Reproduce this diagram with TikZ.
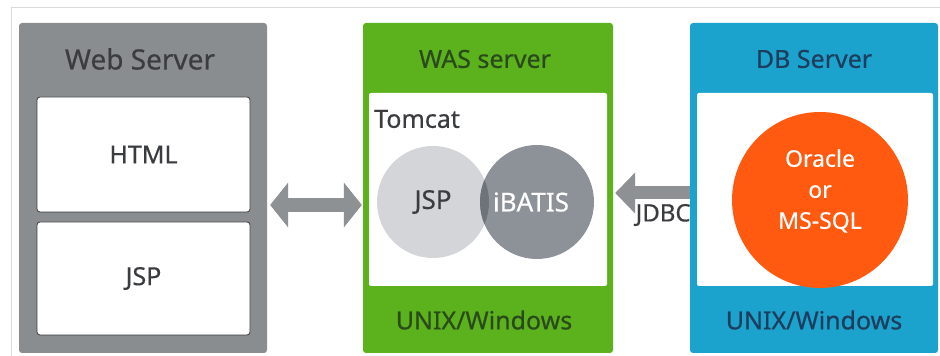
\documentclass[tikz,border=0pt]{standalone}
\usepackage{fontspec}
\setmainfont{Noto Sans}[FakeBold=0.5]
\usetikzlibrary{arrows.meta}
\definecolor{webgray}{HTML}{8A8D90}
\definecolor{wasgreen}{HTML}{5CB21C}
\definecolor{dbblue}{HTML}{1BA3CE}
\definecolor{orng}{HTML}{FF5A0F}
\definecolor{jspgray}{HTML}{D3D5D8}
\definecolor{ibgray}{HTML}{8D9299}
\definecolor{ovgray}{HTML}{6E737A}
\definecolor{arrgray}{HTML}{8E9194}
\definecolor{txt}{HTML}{3A3C3F}
\definecolor{wastxt}{HTML}{2A4A1E}
\definecolor{dbtxt}{HTML}{1E3D5C}
\definecolor{frame}{HTML}{D9D9D9}
\tikzset{
  server/.style={rectangle, rounded corners=3pt, draw=none, minimum width=248pt, minimum height=330pt, inner sep=0pt},
  inner/.style={rectangle, rounded corners=2pt, fill=white, draw=none, inner sep=0pt},
  webitem/.style={rectangle, rounded corners=3pt, fill=white, draw=txt, line width=0.8pt, minimum width=213pt, inner sep=0pt, font=\fontsize{25}{30}\selectfont, text=txt},
  title/.style={font=\fontsize{25}{30}\selectfont, inner sep=0pt},
  bigarrow/.style={line width=14pt, draw=arrgray, {Triangle[width=44pt,length=18pt]}-{Triangle[width=44pt,length=18pt]}},
  onearrow/.style={line width=13pt, draw=arrgray, -{Triangle[width=40pt,length=20pt]}},
}
\begin{document}
\begin{tikzpicture}[x=1pt,y=1pt]
\useasboundingbox (0,0) rectangle (940,356);
\fill[white] (0,0) rectangle (940,356);
\draw[frame, line width=1pt] (11,0) -- (11,348) -- (940,348);

% Web server
\node[server, fill=webgray] (web) at (143,168) {};
\node[title, text=txt, font=\fontsize{28}{32}\selectfont] (webt) at (140,297) {Web Server};
\node[webitem, minimum height=115pt] (html) at (143.5,201.5) {HTML};
\node[webitem, minimum height=113pt] (wjsp) at (143.5,77.5) {JSP};

% WAS server
\node[server, fill=wasgreen, minimum width=250pt] (was) at (488,168) {};
\node[title, text=wastxt] (wast) at (485,297) {WAS server};
\node[inner, minimum width=238pt, minimum height=193pt] (wasin) at (488,166.5) {};
\node[title, text=txt, anchor=west] (tomcat) at (374,237) {Tomcat};
\fill[jspgray] (433,154) circle (56);
\fill[ibgray] (537,154) circle (57);
\begin{scope}
  \clip (433,154) circle (56);
  \fill[ovgray] (537,154) circle (57);
\end{scope}
\node[circle, minimum size=112pt, inner sep=0pt, font=\fontsize{26}{30}\selectfont, text=txt] (jsp) at (433,154) {JSP};
\node[circle, minimum size=114pt, inner sep=0pt, font=\fontsize{26}{30}\selectfont, text=white] (ibatis) at (531,154) {iBATIS};
\node[title, text=wastxt] (wasos) at (484,36) {UNIX/Windows};

% DB server
\node[server, fill=dbblue] (db) at (814,168) {};
\node[title, text=dbtxt] (dbt) at (814,297) {DB Server};
\node[inner, minimum width=236pt, minimum height=193pt] (dbin) at (815,166.5) {};
\node[circle, fill=orng, minimum size=176pt, inner sep=0pt] (oracle) at (820,156) {};
\node[text=white, align=center, inner sep=0pt, font=\fontsize{23}{31}\selectfont] (oracletxt) at ([yshift=9pt]oracle.center) {Oracle\\or\\MS-SQL};
\node[title, text=dbtxt] (dbos) at (814,36) {UNIX/Windows};

% connectors
\draw[bigarrow] ([xshift=3pt,yshift=-17pt]web.east) -- ([xshift=-1pt,yshift=-17pt]was.west);
\draw[onearrow] ([yshift=-5pt]db.west) -- ([xshift=2pt,yshift=-5pt]was.east);
\node[font=\fontsize{24}{28}\selectfont, text=txt, anchor=east, inner sep=0pt] (jdbc) at ([xshift=1pt,yshift=-27pt]db.west) {JDBC};
\end{tikzpicture}
\end{document}
